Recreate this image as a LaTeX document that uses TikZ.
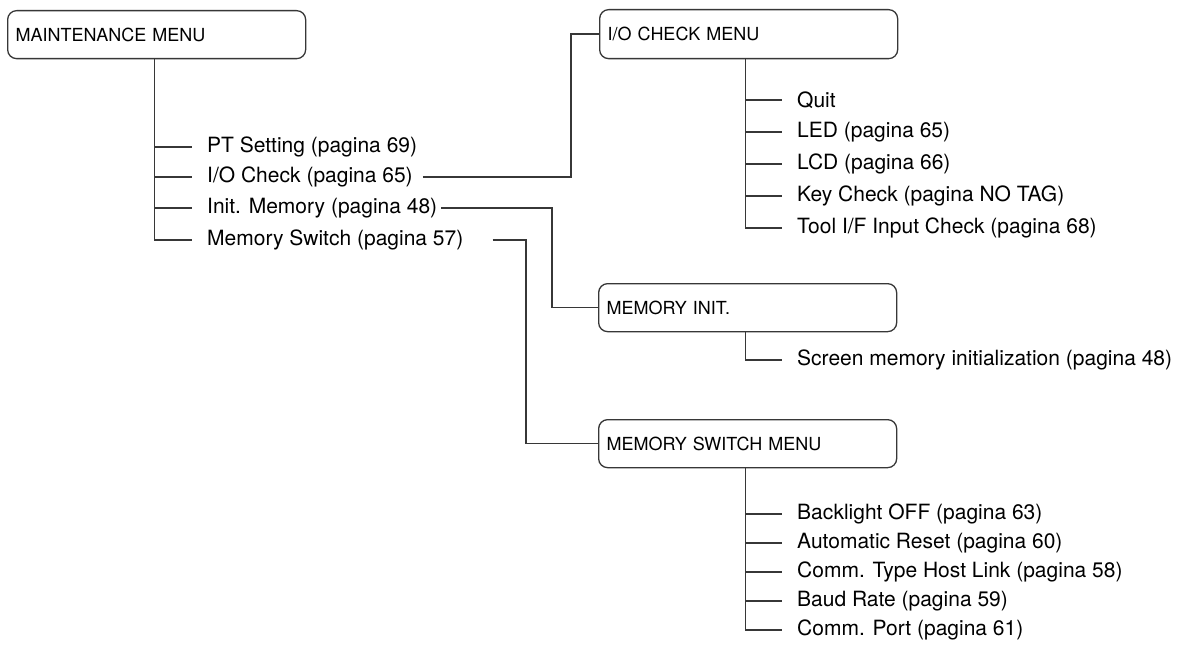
\documentclass[tikz,border=0pt]{standalone}
\usepackage{fontspec}
\setmainfont{TeX Gyre Heros}
\definecolor{linec}{RGB}{55,55,55}
\begin{document}
\begin{tikzpicture}[x=1pt,y=-1pt,
  conn/.style={draw=linec, line width=1.3pt},
  menubox/.style={draw=linec, line width=1.3pt, rounded corners=9pt,
    minimum width=298pt, minimum height=48pt, text width=282pt,
    inner xsep=8pt, align=left, anchor=north west,
    font=\fontsize{18}{20}\selectfont},
  item/.style={inner xsep=15pt, inner ysep=0pt, anchor=west,
    font=\fontsize{21}{23}\selectfont}]
\fill[white] (0,0) rectangle (1190,652);
\useasboundingbox (0,0) rectangle (1190,652);

% boxes
\node[menubox] (mm)  at (7,10)   {MAINTENANCE MENU};
\node[menubox, minimum height=49pt] (iom) at (599,9) {I/O CHECK MENU};
\node[menubox] (mi)  at (598,283) {MEMORY INIT.};
\node[menubox] (msm) at (598,419) {MEMORY SWITCH MENU};

% maintenance items
\node[item] (pt) at (192,147) {PT Setting (pagina 69)};
\node[item] (io) at (192,177) {I/O Check (pagina 65)};
\node[item] (im) at (192,208) {Init. Memory (pagina 48)};
\node[item] (ms) at (192,240) {Memory Switch (pagina 57)};

% I/O check items
\node[item] (q)   at (782,100) {Quit};
\node[item] (led) at (782,132) {LED (pagina 65)};
\node[item] (lcd) at (782,164) {LCD (pagina 66)};
\node[item] (key) at (782,196) {Key Check (pagina NO TAG)};
\node[item] (tool) at (782,228) {Tool I/F Input Check (pagina 68)};

% memory init item
\node[item] (scr) at (782,360) {Screen memory initialization (pagina 48)};

% memory switch items
\node[item] (bl)  at (782,514) {Backlight OFF (pagina 63)};
\node[item] (ar)  at (782,543) {Automatic Reset (pagina 60)};
\node[item] (ct)  at (782,572) {Comm. Type Host Link (pagina 58)};
\node[item] (br)  at (782,601) {Baud Rate (pagina 59)};
\node[item] (cp)  at (782,630) {Comm. Port (pagina 61)};

% trunks
\coordinate (ta) at ([xshift=-2pt]mm.south);
\draw[conn] (ta) |- (ms.west);
\foreach \n in {pt,io,im} \draw[conn] (ta |- \n.west) -- (\n.west);

\coordinate (tb) at ([xshift=-3pt]iom.south);
\draw[conn] (tb) |- (tool.west);
\foreach \n in {q,led,lcd,key} \draw[conn] (tb |- \n.west) -- (\n.west);

\coordinate (tc) at ([xshift=-2.5pt]mi.south);
\draw[conn] (tc) |- (scr.west);

\coordinate (td) at ([xshift=-2.5pt]msm.south);
\draw[conn] (td) |- (cp.west);
\foreach \n in {bl,ar,ct,br} \draw[conn] (td |- \n.west) -- (\n.west);

% cross connectors
\draw[conn] ([xshift=-5pt]io.east) -| ([xshift=-28pt]iom.west) -- (iom.west);
\draw[conn] ([xshift=-11pt]im.east) -| ([xshift=-46pt]mi.west) -- (mi.west);
\draw[conn] ([xshift=14pt]ms.east) -| ([xshift=-72pt]msm.west) -- (msm.west);
\end{tikzpicture}
\end{document}
